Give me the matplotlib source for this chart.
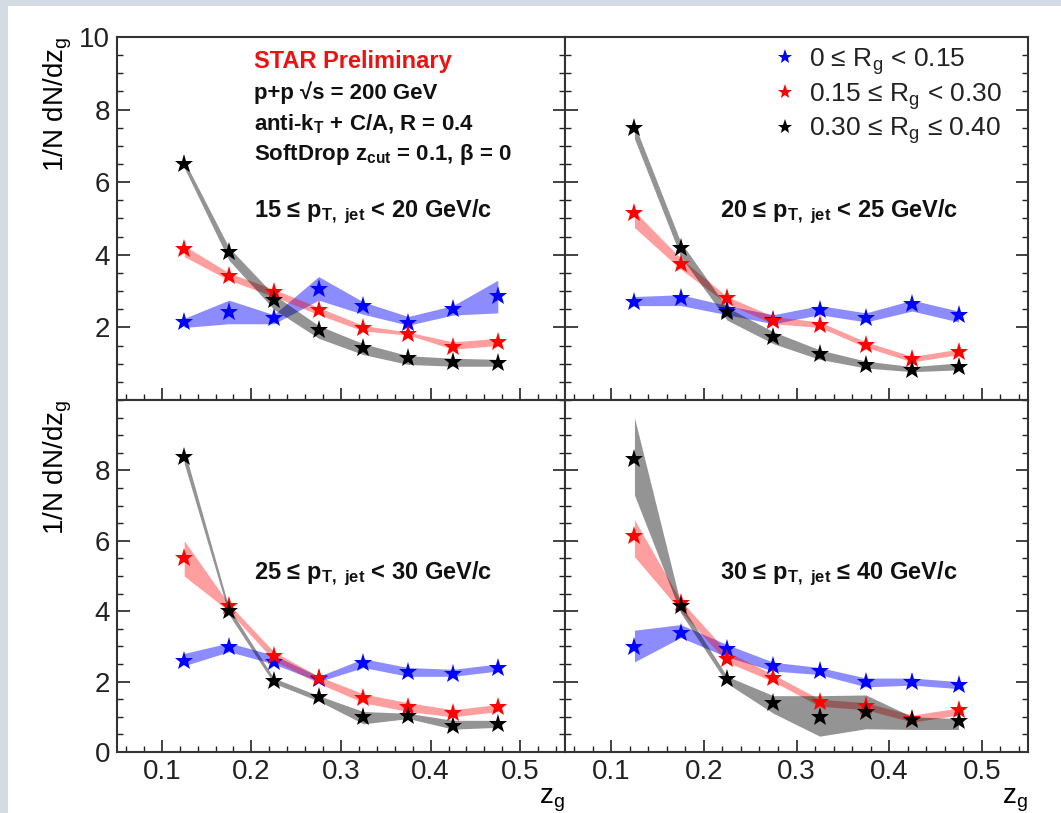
import matplotlib
matplotlib.use("Agg")
import matplotlib.pyplot as plt
from matplotlib.patches import Rectangle
from matplotlib.ticker import MultipleLocator
import numpy as np

plt.rcParams['font.family'] = ['Liberation Sans', 'DejaVu Sans']
plt.rcParams['mathtext.default'] = 'regular'

# bin centres in z_g
zg = [0.125, 0.175, 0.225, 0.275, 0.325, 0.375, 0.425, 0.475]

series_labels = [r'0 ≤ R$_g$ < 0.15', r'0.15 ≤ R$_g$ < 0.30', r'0.30 ≤ R$_g$ ≤ 0.40']
pt_labels = [r'15 ≤ p$_{T,\ jet}$ < 20 GeV/c', r'20 ≤ p$_{T,\ jet}$ < 25 GeV/c',
             r'25 ≤ p$_{T,\ jet}$ < 30 GeV/c', r'30 ≤ p$_{T,\ jet}$ ≤ 40 GeV/c']

# 15-20 GeV/c
p1_blue = [2.16, 2.43, 2.25, 3.05, 2.59, 2.13, 2.50, 2.86]
p1_blue_lo = [2.00, 2.10, 2.10, 2.75, 2.36, 2.06, 2.34, 2.40]
p1_blue_hi = [2.25, 2.75, 2.35, 3.40, 2.70, 2.30, 2.60, 3.30]
p1_red = [4.17, 3.41, 2.98, 2.48, 1.97, 1.83, 1.47, 1.60]
p1_red_lo = [3.95, 3.30, 2.85, 2.35, 1.90, 1.79, 1.40, 1.50]
p1_red_hi = [4.25, 3.50, 3.05, 2.55, 2.05, 1.87, 1.60, 1.70]
p1_black = [6.51, 4.08, 2.75, 1.93, 1.42, 1.15, 1.06, 1.03]
p1_black_lo = [6.40, 3.85, 2.50, 1.70, 1.25, 0.98, 0.93, 0.93]
p1_black_hi = [6.60, 4.20, 2.90, 2.05, 1.55, 1.22, 1.15, 1.12]

# 20-25 GeV/c
p2_blue = [2.71, 2.80, 2.48, 2.20, 2.48, 2.25, 2.64, 2.34]
p2_blue_lo = [2.60, 2.60, 2.35, 2.10, 2.35, 2.15, 2.45, 2.15]
p2_blue_hi = [2.85, 2.90, 2.60, 2.35, 2.60, 2.40, 2.75, 2.45]
p2_red = [5.14, 3.76, 2.80, 2.18, 2.06, 1.51, 1.12, 1.33]
p2_red_lo = [4.75, 3.60, 2.65, 2.10, 2.00, 1.45, 1.05, 1.25]
p2_red_hi = [5.20, 3.90, 2.85, 2.30, 2.15, 1.60, 1.20, 1.40]
p2_black = [7.48, 4.20, 2.43, 1.74, 1.28, 0.96, 0.83, 0.92]
p2_black_lo = [7.20, 3.95, 2.20, 1.55, 1.12, 0.88, 0.78, 0.83]
p2_black_hi = [7.60, 4.35, 2.55, 1.88, 1.38, 1.07, 0.92, 1.02]

# 25-30 GeV/c
p3_blue = [2.59, 2.99, 2.56, 2.07, 2.54, 2.26, 2.21, 2.40]
p3_blue_lo = [2.45, 2.85, 2.50, 2.00, 2.40, 2.15, 2.15, 2.30]
p3_blue_hi = [2.80, 3.10, 2.75, 2.15, 2.65, 2.40, 2.35, 2.50]
p3_red = [5.52, 4.16, 2.73, 2.09, 1.52, 1.27, 1.11, 1.27]
p3_red_lo = [5.00, 4.00, 2.60, 1.95, 1.40, 1.15, 1.00, 1.15]
p3_red_hi = [6.00, 4.20, 2.85, 2.15, 1.65, 1.40, 1.20, 1.35]
p3_black = [8.38, 4.00, 2.02, 1.55, 0.99, 1.02, 0.75, 0.80]
p3_black_lo = [8.20, 3.90, 1.95, 1.45, 0.80, 0.95, 0.65, 0.70]
p3_black_hi = [8.60, 4.10, 2.10, 1.60, 1.15, 1.10, 0.90, 0.90]

# 30-40 GeV/c
p4_blue = [2.99, 3.39, 2.94, 2.43, 2.29, 1.98, 1.98, 1.91]
p4_blue_lo = [2.56, 3.25, 2.70, 2.30, 2.20, 1.85, 1.90, 1.80]
p4_blue_hi = [3.46, 3.62, 3.05, 2.55, 2.40, 2.10, 2.10, 2.00]
p4_red = [6.15, 4.24, 2.65, 2.09, 1.41, 1.30, 0.94, 1.18]
p4_red_lo = [5.55, 4.00, 2.55, 2.00, 1.30, 1.20, 0.85, 1.05]
p4_red_hi = [6.60, 4.30, 2.85, 2.20, 1.50, 1.40, 1.05, 1.25]
p4_black = [8.33, 4.14, 2.07, 1.39, 0.99, 1.15, 0.92, 0.88]
p4_black_lo = [7.30, 3.95, 1.95, 1.10, 0.45, 0.66, 0.64, 0.64]
p4_black_hi = [9.50, 4.20, 2.15, 1.60, 1.60, 1.62, 1.00, 0.95]

panels = [
    [(p1_blue, p1_blue_lo, p1_blue_hi), (p1_red, p1_red_lo, p1_red_hi), (p1_black, p1_black_lo, p1_black_hi)],
    [(p2_blue, p2_blue_lo, p2_blue_hi), (p2_red, p2_red_lo, p2_red_hi), (p2_black, p2_black_lo, p2_black_hi)],
    [(p3_blue, p3_blue_lo, p3_blue_hi), (p3_red, p3_red_lo, p3_red_hi), (p3_black, p3_black_lo, p3_black_hi)],
    [(p4_blue, p4_blue_lo, p4_blue_hi), (p4_red, p4_red_lo, p4_red_hi), (p4_black, p4_black_lo, p4_black_hi)],
]

marker_colors = ['#0000ff', '#ff0000', '#000000']
band_colors = ['#0000ff', '#ff0000', '#000000']
band_alpha = [0.45, 0.38, 0.42]

W, H = 1061, 813
fig = plt.figure(figsize=(W / 100, H / 100), dpi=100)
fig.patch.set_facecolor('#d3dce3')
fig.add_artist(Rectangle((8 / W, 0), 1, 1 - 6 / H, transform=fig.transFigure,
                         facecolor='white', edgecolor='none', zorder=-10))

# frame edges in pixels
xl, xm, xr = 117, 565, 1028
yt, ym, yb = 37, 400, 752
rects = [
    (xl, ym, xm, yt), (xm, ym, xr, yt),
    (xl, yb, xm, ym), (xm, yb, xr, ym),
]

axes = []
for i, (x0, y0, x1, y1) in enumerate(rects):
    ax = fig.add_axes([x0 / W, 1 - y0 / H, (x1 - x0) / W, (y0 - y1) / H])
    ax.set_xlim(0.05, 0.55)
    ax.set_ylim(0, 10)
    ax.xaxis.set_major_locator(MultipleLocator(0.1))
    ax.xaxis.set_minor_locator(MultipleLocator(0.02))
    ax.yaxis.set_major_locator(MultipleLocator(2))
    ax.yaxis.set_minor_locator(MultipleLocator(0.5))
    ax.tick_params(which='both', direction='in', right=True, top=False,
                   labelsize=20, colors='#222222', pad=5)
    ax.tick_params(which='major', length=9, width=1.2)
    ax.tick_params(which='minor', length=4.5, width=1.0)
    for s in ax.spines.values():
        s.set_linewidth(1.5)
        s.set_color('#333333')

    for (vals, lo, hi), mc, bc, ba in zip(panels[i], marker_colors, band_colors, band_alpha):
        ax.fill_between(zg, lo, hi, color=bc, alpha=ba, linewidth=0)
    for (vals, lo, hi), mc in zip(panels[i], marker_colors):
        ax.plot(zg, vals, linestyle='none', marker='*', markersize=14,
                color=mc, markeredgewidth=0, zorder=5)

    col = i % 2
    row = i // 2
    if col == 1:
        ax.tick_params(labelleft=False)
    if row == 0:
        ax.tick_params(labelbottom=False)
        ax.set_yticks([2, 4, 6, 8, 10])
    else:
        ax.set_yticks([0, 2, 4, 6, 8])
        ax.set_xlabel('z$_g$', loc='right', fontsize=20, labelpad=1)
    if col == 0:
        ax.set_ylabel('1/N dN/dz$_g$', loc='top', fontsize=20)
        ax.yaxis.set_label_coords(-0.097, 1.0)
    axes.append(ax)

# labels for the pT bins
pt_pos = [(0.305, 0.505), (0.335, 0.505), (0.305, 0.49), (0.335, 0.49)]
for ax, lab, (tx, ty) in zip(axes, pt_labels, pt_pos):
    ax.text(tx, ty, lab, transform=ax.transAxes, fontsize=17, fontweight='bold',
            va='baseline', color='#111111')

ax = axes[0]
ax.text(0.305, 0.914, 'STAR Preliminary', transform=ax.transAxes, fontsize=17,
        fontweight='bold', color='#ee1111')
info = ['p+p √s = 200 GeV', r'anti-k$_T$ + C/A, R = 0.4', r'SoftDrop z$_{cut}$ = 0.1, β = 0']
for k, t in enumerate(info):
    ax.text(0.305, 0.828 - 0.084 * k, t, transform=ax.transAxes, fontsize=16,
            fontweight='bold', color='#111111')

# legend in the top right panel
ax = axes[1]
handles = []
for mc, lab in zip(marker_colors, series_labels):
    h, = ax.plot([], [], linestyle='none', marker='*', markersize=11, color=mc,
                 markeredgewidth=0, label=lab)
    handles.append(h)
ax.legend(handles=handles, loc='upper left', bbox_to_anchor=(0.39, 1.04), frameon=False,
          fontsize=19, handletextpad=0.3, labelspacing=0.15, handlelength=1.2,
          labelcolor='#222222')

fig.savefig('out.png', dpi=100, facecolor=fig.get_facecolor())
